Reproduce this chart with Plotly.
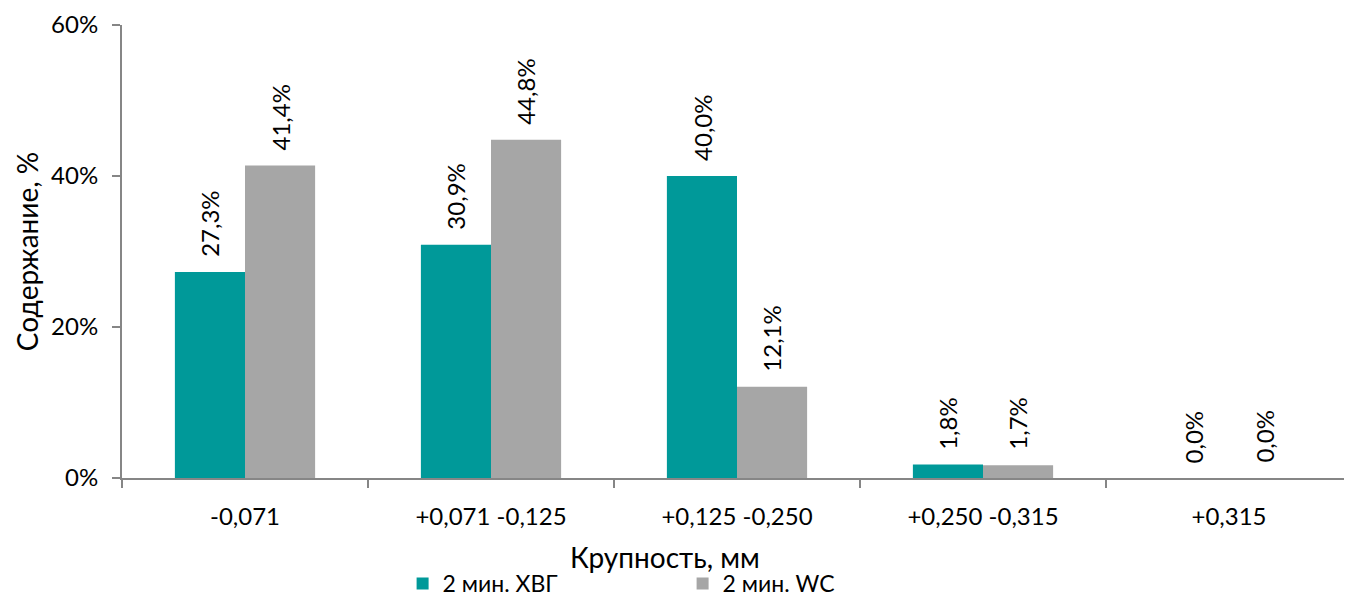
import plotly.graph_objects as go

categories = ["-0,071", "+0,071 -0,125", "+0,125 -0,250", "+0,250 -0,315", "+0,315"]
series_names = ["2 мин. ХВГ", "2 мин. WC"]
hvg = [0.273, 0.309, 0.400, 0.018, 0.000]
wc = [0.414, 0.448, 0.121, 0.017, 0.000]
colors = ["#009999", "#A6A6A6"]
x_title = "Крупность, мм"
y_title = "Содержание, %"

FONT = "Lato, Liberation Sans, sans-serif"
W, H = 1344, 597
ML, MR, MT, MB = 114, 0, 17, 127
BARGAP = 0.43
series = [hvg, wc]

fig = go.Figure()
for name, vals, col in zip(series_names, series, colors):
    fig.add_trace(go.Bar(
        x=categories, y=vals, name=name,
        marker=dict(color=col, line=dict(width=0)),
        hovertemplate="%{x}: %{y:.1%}<extra>" + name + "</extra>",
    ))

# value labels: placed at each bar's top through the axes, shifted to the bar's slot in its group
cat_px = (W - ML - MR) / len(categories)
bar_px = cat_px * (1 - BARGAP) / len(series)
annotations = []
for i, vals in enumerate(series):
    shift = (i - (len(series) - 1) / 2) * bar_px
    for c, v in zip(categories, vals):
        annotations.append(dict(
            x=c, y=v, xref="x", yref="y", text=f"{v:.1%}".replace(".", ","),
            textangle=-90, xanchor="center", yanchor="bottom",
            xshift=shift, yshift=13, showarrow=False,
            font=dict(size=24, color="#000000", family=FONT),
        ))
annotations.append(dict(
    text=x_title, xref="paper", yref="paper", x=0.4415, y=-0.175,
    xanchor="center", yanchor="middle", showarrow=False, font=dict(size=28),
))

axis_col = "#868686"
fig.update_layout(
    width=W, height=H,
    margin=dict(l=ML, r=MR, t=MT, b=MB, autoexpand=False),
    plot_bgcolor="white", paper_bgcolor="white",
    separators=", ",
    barmode="group", bargap=BARGAP, bargroupgap=0,
    font=dict(family=FONT, size=24, color="#000000"),
    xaxis=dict(
        automargin=False,
        showline=True, linecolor=axis_col, linewidth=2,
        ticks="outside", tickson="boundaries", ticklen=8, tickcolor=axis_col, tickwidth=2,
        tickfont=dict(size=24), ticklabelstandoff=16,
    ),
    yaxis=dict(
        automargin=False,
        range=[0, 0.6], tickvals=[0, 0.2, 0.4, 0.6], tickformat=".0%",
        showline=True, linecolor=axis_col, linewidth=2, showgrid=False, zeroline=False,
        ticks="outside", ticklen=8, tickcolor=axis_col, tickwidth=2,
        tickfont=dict(size=24), ticklabelstandoff=9,
        title=dict(text=y_title, font=dict(size=28), standoff=4),
    ),
    annotations=annotations,
    legend=dict(
        orientation="h", xref="container", yref="container",
        x=0.2936, xanchor="left", y=0.0, yanchor="bottom",
        font=dict(size=23), entrywidth=235, entrywidthmode="pixels",
        itemclick=False, tracegroupgap=0,
    ),
    showlegend=True,
)
fig.write_html("out.html")
